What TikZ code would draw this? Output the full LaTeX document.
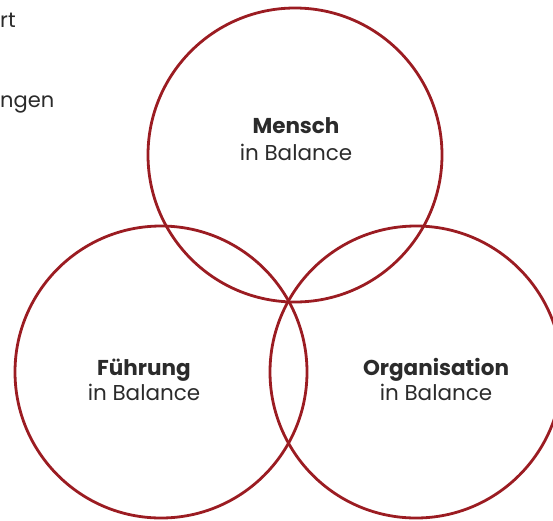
\documentclass[tikz,border=0pt]{standalone}
\usepackage{fontspec}
\setmainfont{Poppins}
\definecolor{ringred}{HTML}{9B1C22}
\definecolor{txtgray}{HTML}{2B2B2B}
\begin{document}
\begin{tikzpicture}[x=1pt,y=-1pt,
  ring/.style={draw=ringred,line width=2.8pt},
  title/.style={anchor=base,inner sep=0pt,text=txtgray,font=\fontsize{21.5}{25}\selectfont\bfseries},
  sub/.style={anchor=base,inner sep=0pt,text=txtgray,font=\fontsize{21.5}{25}\selectfont},
  frag/.style={anchor=base west,inner sep=0pt,text=txtgray,font=\fontsize{21}{25}\selectfont}]
\useasboundingbox (0,0) rectangle (553,520);
\begin{scope}
\clip (0,0) rectangle (553,520);
\draw[ring] (295,155) circle (147);
\draw[ring] (161,372) circle (146);
\draw[ring] (416,372) circle (146);
\end{scope}
\node[frag] (f1) at (0,27) {rt};
\node[frag] (f2) at (0,107) {ngen};
\node[title] (m1) at (296,133) {Mensch};
\node[sub]   (m2) at (296,160) {in Balance};
\node[title] (l1) at (144,375) {Führung};
\node[sub]   (l2) at (144,400) {in Balance};
\node[title] (r1) at (436,375) {Organisation};
\node[sub]   (r2) at (436,400) {in Balance};
\end{tikzpicture}
\end{document}
